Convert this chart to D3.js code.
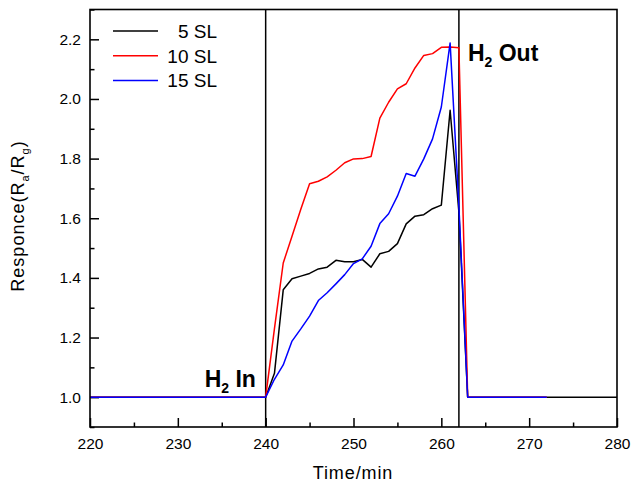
<!DOCTYPE html>
<html>
<head>
<meta charset="utf-8">
<script src="https://cdn.jsdelivr.net/npm/d3@7"></script>
<style>
  html, body { margin: 0; padding: 0; background: #fff; }
  svg { display: block; }
  text { font-family: Arial, "Liberation Sans", sans-serif; fill: #000; }
</style>
</head>
<body>
<svg id="chart" width="633" height="482"></svg>
<script>
// ---------- data ----------
const seriesNames = ["5 SL", "10 SL", "15 SL"];
const seriesColors = ["#000000", "#ff0000", "#0000ff"];

const time5 = [220, 240, 241, 242, 243, 244, 245, 246, 247, 248, 249, 250, 251, 252, 253, 254, 255, 256, 257, 258, 259, 260, 261, 262, 263, 280];
const resp5 = [1.0, 1.0, 1.08, 1.36, 1.397, 1.406, 1.415, 1.43, 1.436, 1.459, 1.454, 1.454, 1.462, 1.436, 1.481, 1.489, 1.515, 1.581, 1.607, 1.612, 1.632, 1.644, 1.962, 1.62, 1.0, 1.0];

const time10 = [220, 240, 241, 242, 243, 244, 245, 246, 247, 248, 249, 250, 251, 252, 253, 254, 255, 256, 257, 258, 259, 260, 261, 262, 263, 272];
const resp10 = [1.0, 1.0, 1.23, 1.45, 1.54, 1.63, 1.716, 1.724, 1.739, 1.761, 1.786, 1.799, 1.80, 1.807, 1.936, 1.989, 2.034, 2.051, 2.104, 2.146, 2.152, 2.173, 2.174, 2.172, 1.0, 1.0];

const time15 = [220, 240, 241, 242, 243, 244, 245, 246, 247, 248, 249, 250, 251, 252, 253, 254, 255, 256, 257, 258, 259, 260, 261, 262, 263, 272];
const resp15 = [1.0, 1.0, 1.06, 1.108, 1.188, 1.229, 1.272, 1.324, 1.35, 1.38, 1.411, 1.448, 1.464, 1.506, 1.582, 1.615, 1.674, 1.75, 1.741, 1.799, 1.866, 1.973, 2.188, 1.64, 1.0, 1.0];

const xTicks = [220, 230, 240, 250, 260, 270, 280];
const xMinorTicks = [225, 235, 245, 255, 265, 275];
const yTicks = [1.0, 1.2, 1.4, 1.6, 1.8, 2.0, 2.2];
const yMinorTicks = [0.9, 1.1, 1.3, 1.5, 1.7, 1.9, 2.1, 2.3];
const markerTimes = [240, 262];
const markerLabels = [{main: "H", sub: "2", rest: " In", t: 240, v: 1.0}, {main: "H", sub: "2", rest: " Out", t: 262, v: 2.2}];

// ---------- layout ----------
const svg = d3.select("#chart");
const mLeft = 90, mRight = 617, mTop = 9.5, mBottom = 427;

const x = d3.scaleLinear().domain([220, 280]).range([mLeft, mRight]);
const y = d3.scaleLinear().domain([0.9, 2.3]).range([mBottom, mTop]);

// axes (ticks pointing inward)
const gx = svg.append("g").attr("transform", `translate(0,${mBottom})`)
  .call(d3.axisBottom(x).tickValues(xTicks).tickSize(-9).tickSizeOuter(0).tickPadding(11).tickFormat(d3.format("d")));
const gxm = svg.append("g").attr("transform", `translate(0,${mBottom})`)
  .call(d3.axisBottom(x).tickValues(xMinorTicks).tickSize(-4.5).tickSizeOuter(0).tickFormat(""));
const gy = svg.append("g").attr("transform", `translate(${mLeft},0)`)
  .call(d3.axisLeft(y).tickValues(yTicks).tickSize(-9).tickSizeOuter(0).tickPadding(9).tickFormat(d3.format(".1f")));
const gym = svg.append("g").attr("transform", `translate(${mLeft},0)`)
  .call(d3.axisLeft(y).tickValues(yMinorTicks).tickSize(-4.5).tickSizeOuter(0).tickFormat(""));

[gx, gxm, gy, gym].forEach(g => {
  g.select(".domain").remove();
  g.selectAll(".tick line").attr("stroke", "#000").attr("stroke-width", 1.5);
  g.selectAll(".tick text").style("font-size", "15.5px").attr("fill", "#000")
    .style("font-family", 'Arial, "Liberation Sans", sans-serif');
});

// marker vertical lines
svg.append("g").selectAll("line").data(markerTimes).join("line")
  .attr("x1", d => x(d)).attr("x2", d => x(d))
  .attr("y1", mTop).attr("y2", mBottom)
  .attr("stroke", "#000").attr("stroke-width", 1.5);

// data lines
const series = [
  {t: time5, v: resp5},
  {t: time10, v: resp10},
  {t: time15, v: resp15}
];
const line = d3.line().x(d => x(d[0])).y(d => y(d[1]));
series.forEach((s, i) => {
  const pts = s.t.map((t, j) => [t, s.v[j]]);
  svg.append("path").datum(pts)
    .attr("d", line)
    .attr("fill", "none")
    .attr("stroke", seriesColors[i])
    .attr("stroke-width", 1.5)
    .attr("stroke-linejoin", "round");
});

// frame
svg.append("rect")
  .attr("x", mLeft).attr("y", mTop)
  .attr("width", mRight - mLeft).attr("height", mBottom - mTop)
  .attr("fill", "none").attr("stroke", "#000").attr("stroke-width", 1.6);

// legend
const lg = svg.append("g");
seriesNames.forEach((name, i) => {
  const ly = 31 + i * 24.8;
  lg.append("line").attr("x1", 113).attr("x2", 158).attr("y1", ly).attr("y2", ly)
    .attr("stroke", seriesColors[i]).attr("stroke-width", 1.5);
  lg.append("text").attr("x", 217).attr("y", ly + 6.8)
    .attr("text-anchor", "end")
    .style("font-size", "19px").text(name);
});

// H2 In / H2 Out annotations
function annot(px, py, lab) {
  const t = svg.append("text").attr("x", px).attr("y", py)
    .style("font-size", "23px").style("font-weight", "bold");
  t.append("tspan").text(lab.main);
  t.append("tspan").attr("dy", 6).style("font-size", "14px").text(lab.sub);
  t.append("tspan").attr("dy", -6).text(lab.rest);
}
annot(x(markerLabels[0].t) - 61, y(markerLabels[0].v) - 10.5, markerLabels[0]);
annot(x(markerLabels[1].t) + 9, y(markerLabels[1].v) + 22, markerLabels[1]);

// axis titles
svg.append("text").attr("x", 353).attr("y", 479)
  .attr("text-anchor", "middle")
  .style("font-size", "18px").style("letter-spacing", "0.9px")
  .text("Time/min");

const yt = svg.append("text")
  .attr("transform", "translate(24,216) rotate(-90)")
  .attr("text-anchor", "middle")
  .style("font-size", "18px").style("letter-spacing", "1px");
yt.append("tspan").text("Responce(R");
yt.append("tspan").attr("dy", 5).style("font-size", "11px").text("a");
yt.append("tspan").attr("dy", -5).text("/R");
yt.append("tspan").attr("dy", 5).style("font-size", "11px").text("g");
yt.append("tspan").attr("dy", -5).text(")");
</script>
</body>
</html>
